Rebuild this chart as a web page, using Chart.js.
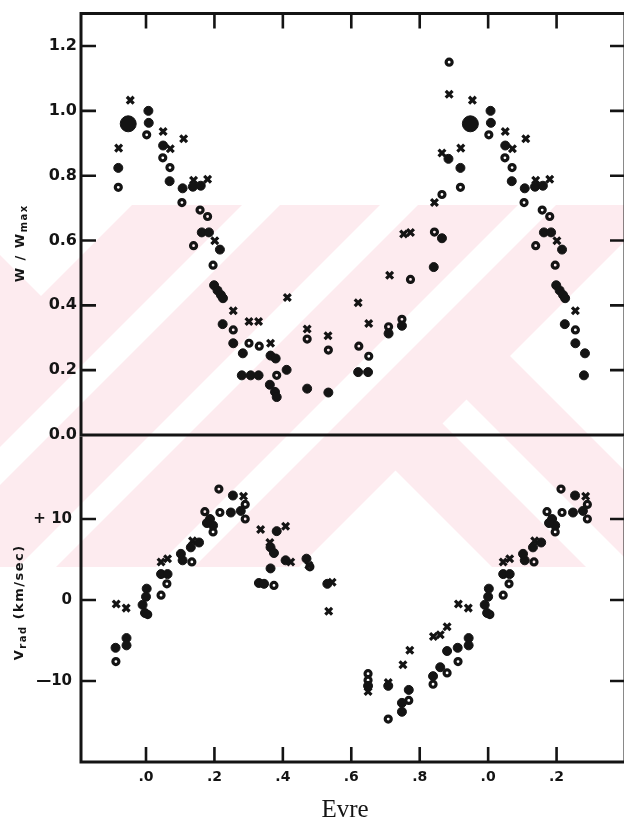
<!DOCTYPE html>
<html>
<head>
<meta charset="utf-8">
<script src="https://cdn.jsdelivr.net/npm/chart.js@4.4.1/dist/chart.umd.min.js"></script>
<style>
html,body{margin:0;padding:0;background:#fff}
#wrap{position:relative;width:624px;height:824px;overflow:hidden}
#wrap canvas{position:absolute;left:0}
</style>
</head>
<body>
<div id="wrap">
  <canvas id="bg" width="624" height="824" style="top:0"></canvas>
  <canvas id="wChart" width="660" height="450" style="top:0"></canvas>
  <canvas id="vChart" width="660" height="404" style="top:420px"></canvas>
</div>
<script>
// ── Axis setup ──
const X_MIN=-0.19, X_MAX=1.40;
const PHASE_LO=-0.1, PHASE_HI=1.295;   // points are repeated one cycle either side inside this window
const phaseTicks=[0,0.2,0.4,0.6,0.8,1.0,1.2];
const phaseTickLabels=['.0','.2','.4','.6','.8','.0','.2'];
const wTicks=[0,0.2,0.4,0.6,0.8,1.0,1.2];
const vTicks=[-10,0,10];
const INK='#141414';

// ── W/Wmax (one cycle) ──
const wFilledPhase=[0.007,0.008,0.050,0.069,0.919,0.107,0.137,0.160,0.163,0.184,0.216,0.199,0.209,0.219,0.225,0.224,0.255,0.283,0.364,0.379,0.280,0.306,0.329,0.362,0.377,0.382,0.411,0.471,0.533,0.620,0.649,0.709,0.748,0.841,0.865,0.884];
const wFilled     =[1.000,0.963,0.893,0.783,0.824,0.761,0.766,0.769,0.625,0.625,0.572,0.462,0.446,0.432,0.422,0.342,0.283,0.252,0.245,0.236,0.184,0.184,0.184,0.155,0.133,0.117,0.201,0.143,0.131,0.194,0.194,0.313,0.337,0.518,0.607,0.852];
const wOpenPhase=[0.002,0.049,0.070,0.919,0.105,0.158,0.180,0.139,0.196,0.255,0.301,0.331,0.382,0.471,0.533,0.622,0.651,0.709,0.748,0.773,0.843,0.865,0.886];
const wOpen     =[0.926,0.855,0.825,0.764,0.717,0.694,0.674,0.584,0.524,0.324,0.283,0.274,0.184,0.296,0.262,0.274,0.243,0.334,0.357,0.480,0.626,0.742,1.150];
const wCrossPhase=[0.954,0.050,0.071,0.110,0.920,0.139,0.180,0.201,0.255,0.301,0.329,0.364,0.413,0.471,0.532,0.620,0.651,0.712,0.753,0.773,0.843,0.865,0.886];
const wCross     =[1.033,0.936,0.883,0.914,0.885,0.786,0.789,0.599,0.383,0.350,0.350,0.283,0.424,0.327,0.306,0.408,0.344,0.493,0.620,0.625,0.717,0.870,1.051];
const wBigPhase=[0.948];
const wBig     =[0.960];

// ── Vrad km/sec (one cycle) ──
const vFilledPhase=[0.254,0.248,0.277,0.187,0.196,0.178,0.382,0.364,0.374,0.408,0.469,0.364,0.330,0.345,0.107,0.102,0.155,0.131,0.044,0.063,0.002,0.000,0.990,0.997,0.911,0.943,0.943,0.530,0.880,0.860,0.839,0.768,0.748,0.748,0.708,0.649];
const vFilled     =[12.9,10.8,11.0,10.0,9.2,9.5,8.5,6.5,5.8,4.9,5.1,3.9,2.1,2.0,4.9,5.7,7.1,6.5,3.2,3.2,1.4,0.4,-0.6,-1.6,-5.9,-4.7,-5.6,2.0,-6.3,-8.3,-9.4,-11.1,-12.7,-13.8,-10.6,-10.6];
const vOpenPhase=[0.213,0.290,0.290,0.216,0.172,0.196,0.134,0.061,0.044,0.005,0.912,0.479,0.374,0.880,0.839,0.768,0.708,0.649,0.649];
const vOpen     =[13.7,11.8,10.0,10.8,10.9,8.4,4.7,2.0,0.6,-1.8,-7.6,4.1,1.8,-9.0,-10.4,-12.4,-14.7,-9.1,-9.9];
const vCrossPhase=[0.285,0.335,0.408,0.362,0.423,0.476,0.136,0.044,0.063,0.913,0.942,0.544,0.534,0.880,0.860,0.840,0.771,0.751,0.649,0.708];
const vCross     =[12.8,8.7,9.1,7.1,4.7,4.3,7.3,4.7,5.1,-0.5,-1.0,2.2,-1.4,-3.3,-4.3,-4.5,-6.2,-8.0,-11.3,-10.2];

// repeat each phase point at p-1, p, p+1 where it falls inside the plotted window
function fold(ph,val){
  const pts=[];
  ph.forEach((p,i)=>{
    [p-1,p,p+1].forEach(q=>{if(q>=PHASE_LO&&q<=PHASE_HI)pts.push({x:q,y:val[i]})});
  });
  return pts;
}

const filledStyle={pointStyle:'circle',pointRadius:4.5,pointBorderWidth:1,pointBackgroundColor:INK,pointBorderColor:INK};
const openStyle={pointStyle:'circle',pointRadius:3,pointBorderWidth:3.2,pointBackgroundColor:'rgba(0,0,0,0)',pointBorderColor:INK};
const crossStyle={pointStyle:'crossRot',pointRadius:4.8,pointBorderWidth:3.2,pointBorderColor:INK};
const bigStyle={pointStyle:'circle',pointRadius:8,pointBorderWidth:1,pointBackgroundColor:INK,pointBorderColor:INK};

// ── Background watermark band ──
(function drawBand(){
  const c=document.getElementById('bg').getContext('2d');
  c.fillStyle='#fff';c.fillRect(0,0,624,824);
  c.save();
  c.beginPath();c.rect(0,205,624,362);c.clip();
  c.fillStyle='#fdebef';c.fillRect(0,205,624,362);
  c.fillStyle='#fff';
  const FOLD=866;
  // "/" bands left of the fold: a <= x+y <= b
  const slash=(a,b)=>{c.beginPath();c.moveTo(a,0);c.lineTo(b,0);c.lineTo(b-1200,1200);c.lineTo(a-1200,1200);c.closePath();c.fill()};
  // "\" bands right of the fold: a <= x-y <= b
  const back=(a,b)=>{c.beginPath();c.moveTo(a-300,-300);c.lineTo(b-300,-300);c.lineTo(b+1200,1200);c.lineTo(a+1200,1200);c.closePath();c.fill()};
  c.save();
  c.beginPath();c.moveTo(-10,-10);c.lineTo(FOLD+10,-10);c.lineTo(-10,FOLD+10);c.closePath();c.clip();
  slash(447,485);slash(585,623);slash(723,761);
  c.beginPath();c.moveTo(0,205);c.lineTo(132,205);c.lineTo(41,296);c.lineTo(0,255);c.closePath();c.fill();
  c.restore();
  c.save();
  c.beginPath();c.moveTo(FOLD,0);c.lineTo(2000,0);c.lineTo(2000,2000);c.lineTo(0,2000);c.lineTo(0,FOLD);c.closePath();c.clip();
  back(-2000,-75);back(19,67);back(154,2000);
  c.restore();
  c.restore();
})();

// ── Frame: box edges + inward tick marks ──
const framePlugin={
  id:'frame',
  beforeDatasetsDraw(chart,args,o){
    const {ctx,chartArea:a,scales:{x,y}}=chart;
    ctx.save();
    ctx.strokeStyle=INK;ctx.lineWidth=3;ctx.lineCap='square';
    ctx.beginPath();
    (o.edges||[]).forEach(e=>{
      if(e==='top'){ctx.moveTo(a.left,a.top);ctx.lineTo(a.right,a.top)}
      if(e==='bottom'){ctx.moveTo(a.left,a.bottom);ctx.lineTo(a.right,a.bottom)}
      if(e==='left'){ctx.moveTo(a.left,a.top);ctx.lineTo(a.left,a.bottom)}
      if(e==='right'){ctx.moveTo(a.right,a.top);ctx.lineTo(a.right,a.bottom)}
    });
    ctx.stroke();
    ctx.lineWidth=2.6;ctx.lineCap='butt';
    const L=15;
    ctx.beginPath();
    phaseTicks.forEach(v=>{
      const px=x.getPixelForValue(v);
      if(o.xSide==='top'){ctx.moveTo(px,a.top);ctx.lineTo(px,a.top+L)}
      else{ctx.moveTo(px,a.bottom);ctx.lineTo(px,a.bottom-L)}
    });
    (o.yTicks||[]).forEach(v=>{
      const py=y.getPixelForValue(v);
      ctx.moveTo(a.left,py);ctx.lineTo(a.left+L,py);
      ctx.moveTo(a.right,py);ctx.lineTo(a.right-L,py);
    });
    ctx.stroke();
    ctx.restore();
  }
};

// ── Axis titles (spaced, with subscripts) ──
const SANS='"DejaVu Sans", Verdana, sans-serif';
const titlePlugin={
  id:'titles',
  afterDraw(chart,args,o){
    const ctx=chart.ctx;
    (o.items||[]).forEach(it=>{
      ctx.save();
      ctx.fillStyle=INK;ctx.textBaseline='middle';ctx.textAlign='left';
      const chars=[];
      it.parts.forEach(p=>{
        const f=`${p.weight||'bold'} ${p.size}px ${p.family||SANS}`;
        for(const ch of p.t){ctx.font=f;chars.push({ch,f,w:ctx.measureText(ch).width,dy:p.sub?3:0})}
      });
      const sp=it.spacing||0;
      const total=chars.reduce((s,c)=>s+c.w,0)+sp*(chars.length-1);
      ctx.translate(it.x,it.y);
      if(it.rotate)ctx.rotate(-Math.PI/2);
      let cx=-total/2;
      chars.forEach(c=>{ctx.font=c.f;ctx.fillText(c.ch,cx,c.dy);cx+=c.w+sp});
      ctx.restore();
    });
  }
};

new Chart(document.getElementById('wChart'),{
  type:'scatter',
  data:{datasets:[
    {data:fold(wFilledPhase,wFilled),...filledStyle},
    {data:fold(wOpenPhase,wOpen),...openStyle},
    {data:fold(wCrossPhase,wCross),...crossStyle},
    {data:fold(wBigPhase,wBig),...bigStyle}
  ]},
  options:{
    responsive:false,animation:false,events:[],
    layout:{autoPadding:false,padding:{left:0,top:11,right:35,bottom:15}},
    plugins:{
      legend:{display:false},tooltip:{enabled:false},
      frame:{edges:['top','left','right','bottom'],xSide:'top',yTicks:[0.2,0.4,0.6,0.8,1.0,1.2]},
      titles:{items:[{x:21,y:244,rotate:true,spacing:1.5,parts:[{t:'W / W',size:13},{t:'max',size:10,sub:true}]}]}
    },
    scales:{
      x:{type:'linear',min:X_MIN,max:X_MAX,display:false},
      y:{type:'linear',min:0,max:1.3,
        afterFit:s=>{s.width=81},
        afterBuildTicks:s=>{s.ticks=wTicks.map(v=>({value:v}))},
        grid:{display:false,drawTicks:false},border:{display:false},
        ticks:{padding:4,color:INK,font:{family:SANS,size:16,weight:'bold'},callback:v=>v.toFixed(1)}}
    }
  },
  plugins:[framePlugin,titlePlugin]
});

new Chart(document.getElementById('vChart'),{
  type:'scatter',
  data:{datasets:[
    {data:fold(vFilledPhase,vFilled),...filledStyle},
    {data:fold(vOpenPhase,vOpen),...openStyle},
    {data:fold(vCrossPhase,vCross),...crossStyle}
  ]},
  options:{
    responsive:false,animation:false,events:[],
    layout:{autoPadding:false,padding:{left:0,top:15,right:35,bottom:0}},
    plugins:{
      legend:{display:false},tooltip:{enabled:false},
      frame:{edges:['left','right','bottom'],xSide:'bottom',yTicks:vTicks},
      titles:{items:[
        {x:20,y:183,rotate:true,spacing:1.5,parts:[{t:'V',size:13},{t:'rad',size:10,sub:true},{t:' (km/sec)',size:13}]},
        {x:345,y:390,rotate:false,spacing:0,parts:[{t:'Evre',size:25,weight:'normal',family:'"Liberation Serif", "Times New Roman", serif'}]}
      ]}
    },
    scales:{
      x:{type:'linear',min:X_MIN,max:X_MAX,
        afterFit:s=>{s.height=62},
        afterBuildTicks:s=>{s.ticks=phaseTicks.map(v=>({value:v}))},
        grid:{display:false,drawTicks:false},border:{display:false},
        ticks:{padding:7,autoSkip:false,maxRotation:0,color:INK,font:{family:SANS,size:14,weight:'bold'},callback:(v,i)=>phaseTickLabels[i]}},
      y:{type:'linear',min:-20,max:20,
        afterFit:s=>{s.width=81},
        afterBuildTicks:s=>{s.ticks=vTicks.map(v=>({value:v}))},
        grid:{display:false,drawTicks:false},border:{display:false},
        ticks:{padding:9,color:INK,font:{family:SANS,size:15,weight:'bold'},callback:v=>v>0?'+ '+v:(v<0?'\u2014'+Math.abs(v):'0')}}
    }
  },
  plugins:[framePlugin,titlePlugin]
});
</script>
</body>
</html>
